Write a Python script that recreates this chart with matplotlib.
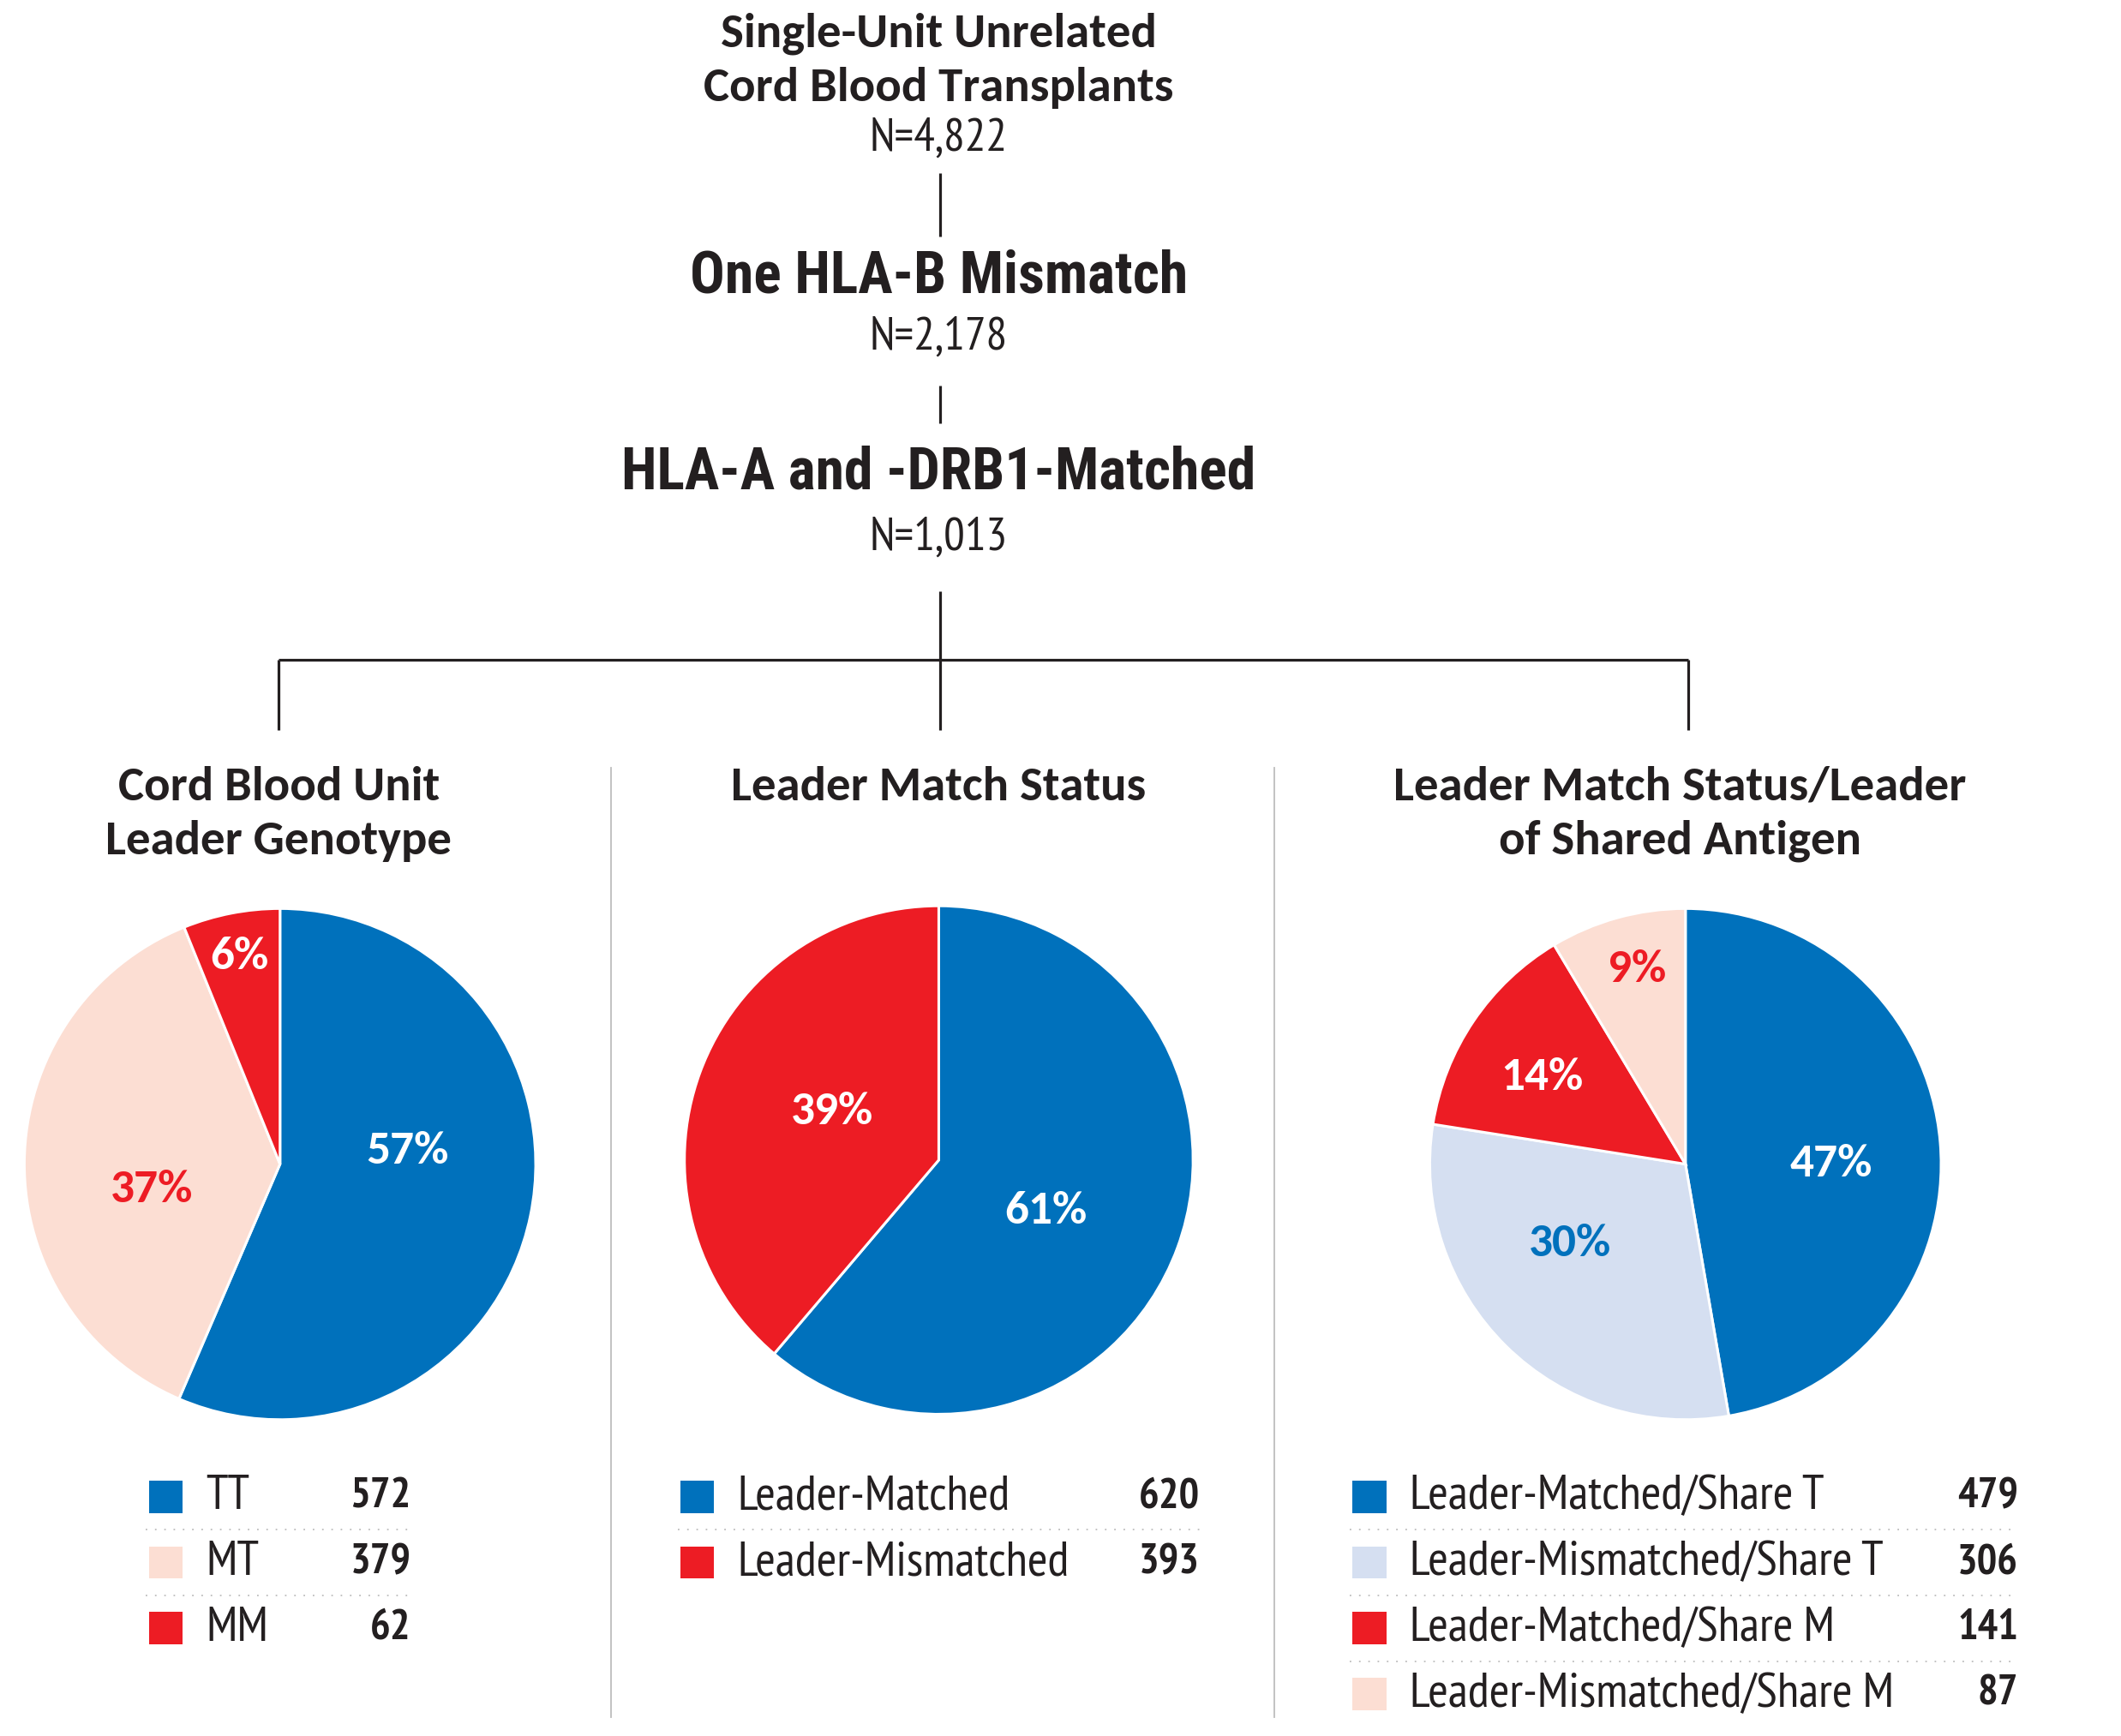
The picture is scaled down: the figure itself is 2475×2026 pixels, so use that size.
import matplotlib
matplotlib.use("Agg")
import matplotlib.pyplot as plt
from matplotlib.patches import Rectangle

# ---- data ----
tree_titles = [["Single-Unit Unrelated", "Cord Blood Transplants"], ["One HLA-B Mismatch"],
               ["HLA-A and -DRB1-Matched"]]
tree_counts = ["N=4,822", "N=2,178", "N=1,013"]

panel_titles = [["Cord Blood Unit", "Leader Genotype"], ["Leader Match Status"],
                ["Leader Match Status/Leader", "of Shared Antigen"]]

geno_labels = ["TT", "MT", "MM"]
geno_values = [572, 379, 62]
geno_pct = ["57%", "37%", "6%"]

match_labels = ["Leader-Matched", "Leader-Mismatched"]
match_values = [620, 393]
match_pct = ["61%", "39%"]

shared_labels = ["Leader-Matched/Share T", "Leader-Mismatched/Share T",
                 "Leader-Matched/Share M", "Leader-Mismatched/Share M"]
shared_values = [479, 306, 141, 87]
shared_pct = ["47%", "30%", "14%", "9%"]

BLUE = "#0071BC"
RED = "#ED1C24"
PINK = "#FCDED3"
LBLUE = "#D5DFF1"
INK = "#231F20"

geno_colors = [BLUE, PINK, RED]
match_colors = [BLUE, RED]
shared_colors = [BLUE, LBLUE, RED, PINK]

# percent label colours and positions (offset from centre, in radii)
geno_pct_colors = ["white", RED, "white"]
geno_pct_pos = [(0.50, 0.05), (-0.50, -0.10), (-0.16, 0.81)]
match_pct_colors = ["white", "white"]
match_pct_pos = [(0.42, -0.20), (-0.42, 0.19)]
shared_pct_colors = ["white", BLUE, "white", RED]
shared_pct_pos = [(0.57, 0.0), (-0.45, -0.31), (-0.56, 0.34), (-0.19, 0.76)]

W, H = 1568, 1284
FIG_W = 2475
NARROW = "PT Sans Narrow"
CAL = "Carlito"
HEAD = "Roboto Condensed"


def Y(y):
    return H - y


fig = plt.figure(figsize=(24.75, 20.26), dpi=100)
ax = fig.add_axes([0, 0, 1, 1])
renderer = fig.canvas.get_renderer()


def fit(text, width, family, weight="normal"):
    # font size that makes `text` about `width` (reference px) wide
    t = fig.text(0, 0, text, fontsize=100, family=family, fontweight=weight)
    w = t.get_window_extent(renderer).width
    t.remove()
    return 100 * width * FIG_W / W / w


fs_title = fit("Cord Blood Transplants", 348, CAL, "bold")
fs_count = fit("N=4,822", 102, NARROW)
fs_head = fit("One HLA-B Mismatch", 368, HEAD, "bold")
fs_panel = fit("Leader Match Status", 307, CAL, "bold")
fs_pct = fit("57%", 61, CAL, "bold")
fs_leg = fit("Leader-Mismatched/Share M", 358, NARROW)
fs_val = fit("479", 45, NARROW, "bold")

# ---- tree header ----
for k, line in enumerate(tree_titles[0]):
    ax.text(694, Y(25 + 40 * k), line, ha="center", va="center", fontsize=fs_title,
            fontweight="bold", family=CAL, color=INK)
ax.text(694, Y(205), tree_titles[1][0], ha="center", va="center", fontsize=fs_head,
        fontweight="bold", family=HEAD, color=INK)
ax.text(694, Y(350), tree_titles[2][0], ha="center", va="center", fontsize=fs_head,
        fontweight="bold", family=HEAD, color=INK)
for yy, s in zip([103, 250, 398], tree_counts):
    ax.text(694, Y(yy), s, ha="center", va="center", fontsize=fs_count, family=NARROW, color=INK)

lk = dict(color=INK, lw=2.3, solid_capstyle="butt")
ax.plot([695, 695], [Y(128), Y(175)], **lk)
ax.plot([695, 695], [Y(285), Y(313)], **lk)
ax.plot([695, 695], [Y(437), Y(488)], **lk)
ax.plot([206, 1248], [Y(488), Y(488)], **lk)
for x in [206, 695, 1248]:
    ax.plot([x, x], [Y(488), Y(540)], **lk)

# gray panel separators
for x in [452, 942]:
    ax.plot([x, x], [Y(568), Y(1270)], color="#BDBDBD", lw=1.3)

panels = [
    dict(title=panel_titles[0], tx=206, labels=geno_labels, values=geno_values, colors=geno_colors,
         pct=geno_pct, pct_colors=geno_pct_colors, pct_pos=geno_pct_pos, center=(207, 861), r=189,
         sq=110, lab=152, val=304),
    dict(title=panel_titles[1], tx=694, labels=match_labels, values=match_values, colors=match_colors,
         pct=match_pct, pct_colors=match_pct_colors, pct_pos=match_pct_pos, center=(694, 858), r=188,
         sq=503, lab=545, val=887),
    dict(title=panel_titles[2], tx=1242, labels=shared_labels, values=shared_values, colors=shared_colors,
         pct=shared_pct, pct_colors=shared_pct_colors, pct_pos=shared_pct_pos, center=(1246, 861), r=189,
         sq=1000, lab=1042, val=1492),
]

for i, p in enumerate(panels):
    for k, line in enumerate(p["title"]):
        ax.text(p["tx"], Y(582 + 40 * k), line, ha="center", va="center", fontsize=fs_panel,
                fontweight="bold", family=CAL, color=INK)
    cx, cy = p["center"][0], Y(p["center"][1])
    wedges, _ = ax.pie(p["values"], colors=p["colors"], startangle=90, counterclock=False,
                       center=(cx, cy), radius=p["r"], frame=True,
                       wedgeprops=dict(edgecolor="white", linewidth=2.2))
    if i == 0:
        clip = Rectangle((21, 0), W, H, transform=ax.transData)
        for w in wedges:
            w.set_clip_path(clip)
    for s, c, (dx, dy) in zip(p["pct"], p["pct_colors"], p["pct_pos"]):
        ax.text(cx + dx * p["r"], cy + dy * p["r"], s, ha="center", va="center",
                fontsize=fs_pct, fontweight="bold", family=CAL, color=c)

    # legend table
    for k, (lab, v, col) in enumerate(zip(p["labels"], p["values"], p["colors"])):
        yy = 1107 + 48.7 * k
        ax.add_patch(Rectangle((p["sq"], Y(yy) - 12), 25, 24, facecolor=col, edgecolor="none"))
        ax.text(p["lab"], Y(yy), lab, ha="left", va="center", fontsize=fs_leg, family=NARROW, color=INK)
        ax.text(p["val"], Y(yy), str(v), ha="right", va="center", fontsize=fs_val,
                fontweight="bold", family=NARROW, color=INK)
        if k < len(p["values"]) - 1:
            ax.plot([p["sq"] - 2, p["val"]], [Y(yy + 24.5)] * 2, color="#BDBDBD",
                    lw=1.3, ls=(0, (1, 5)))

ax.set_xlim(0, W)
ax.set_ylim(0, H)
ax.set_aspect("auto")
ax.axis("off")

fig.savefig("out.png", dpi=100, facecolor="white")
